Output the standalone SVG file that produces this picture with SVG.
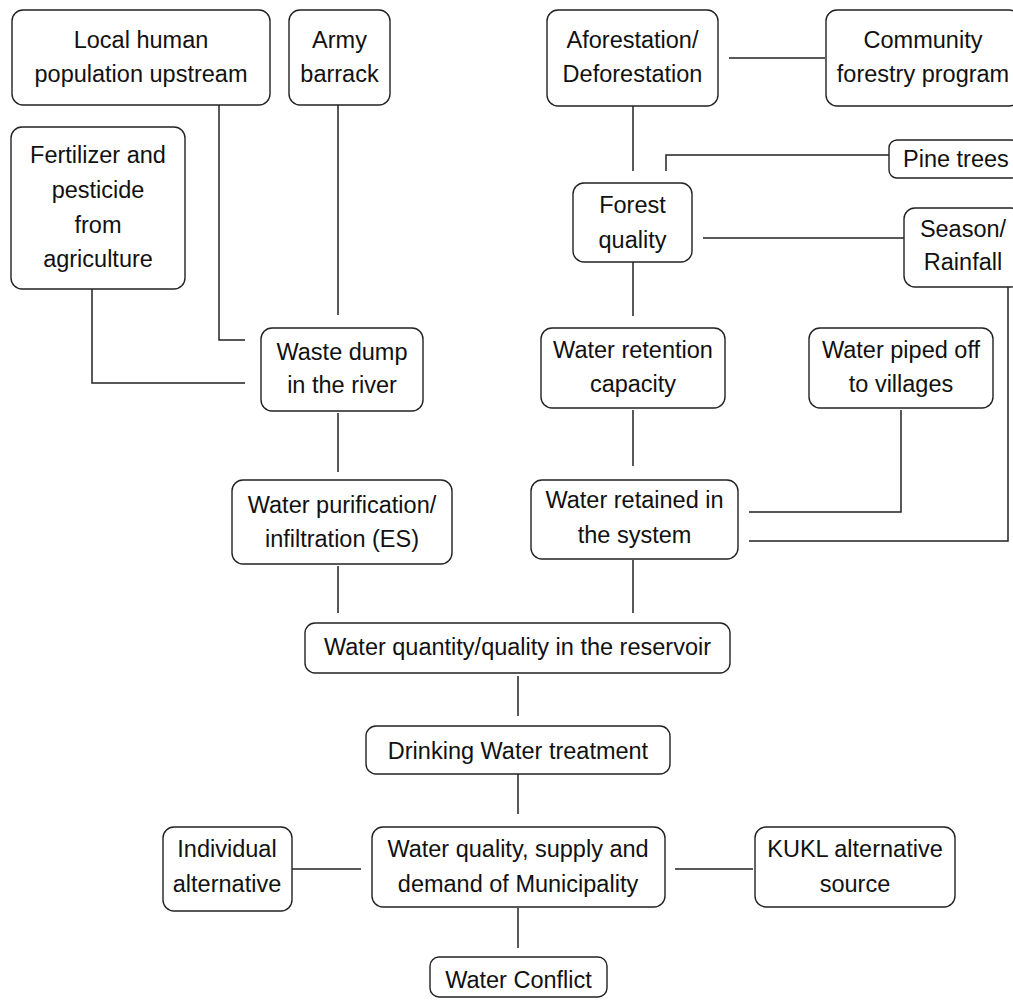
<svg xmlns="http://www.w3.org/2000/svg" width="1013" height="1001" viewBox="0 0 1013 1001">
<style>
.n rect{fill:#fff;stroke:#222;stroke-width:1.4}
.n text{font-family:"Liberation Sans",Arial,sans-serif;font-size:23.5px;fill:#111;text-anchor:middle}
#connectors path{fill:none;stroke:#222;stroke-width:1.5}
</style>
<rect width="1013" height="1001" fill="#fff"/>
<g id="connectors">
<path d="M219,105 V340 H245"/>
<path d="M338,105 V315"/>
<path d="M92,289 V383 H245"/>
<path d="M338,413 V472"/>
<path d="M338,566 V613"/>
<path d="M633,106 V171"/>
<path d="M666,171 V155 H889"/>
<path d="M703,238 H904"/>
<path d="M729,58 H825"/>
<path d="M633,262 V316"/>
<path d="M633,410 V466"/>
<path d="M749,512 H901 V410"/>
<path d="M749,541 H1008 V287"/>
<path d="M633,560 V613"/>
<path d="M518,676 V716"/>
<path d="M518,774 V814"/>
<path d="M292,869 H361"/>
<path d="M675,869 H753"/>
<path d="M518,908 V948"/>
</g>
<g id="local" class="n"><rect x="12" y="10" width="258" height="95" rx="11"/><text x="141" y="48">Local human</text><text x="141" y="82">population upstream</text></g>
<g id="army" class="n"><rect x="289" y="10" width="101" height="95" rx="11"/><text x="339.5" y="48">Army</text><text x="339.5" y="82">barrack</text></g>
<g id="fertilizer" class="n"><rect x="11" y="127" width="174" height="162" rx="11"/><text x="98" y="163">Fertilizer and</text><text x="98" y="198">pesticide</text><text x="98" y="233">from</text><text x="98" y="267">agriculture</text></g>
<g id="aforestation" class="n"><rect x="547" y="10" width="171" height="96" rx="11"/><text x="632.5" y="48">Aforestation/</text><text x="632.5" y="82">Deforestation</text></g>
<g id="community" class="n"><rect x="826" y="10" width="194" height="96" rx="11"/><text x="923" y="48">Community</text><text x="923" y="82">forestry program</text></g>
<g id="pine" class="n"><rect x="889" y="140" width="130" height="38" rx="8"/><text x="903" y="167" style="text-anchor:start">Pine trees</text></g>
<g id="forest" class="n"><rect x="573" y="183" width="119" height="79" rx="11"/><text x="632.5" y="213">Forest</text><text x="632.5" y="248">quality</text></g>
<g id="season" class="n"><rect x="904" y="208" width="118" height="79" rx="11"/><text x="963" y="237">Season/</text><text x="963" y="270">Rainfall</text></g>
<g id="waste" class="n"><rect x="261" y="328" width="162" height="83" rx="11"/><text x="342" y="360">Waste dump</text><text x="342" y="393">in the river</text></g>
<g id="retention" class="n"><rect x="541" y="328" width="184" height="80" rx="11"/><text x="633" y="358">Water retention</text><text x="633" y="392">capacity</text></g>
<g id="piped" class="n"><rect x="809" y="328" width="184" height="80" rx="11"/><text x="901" y="358">Water piped off</text><text x="901" y="392">to villages</text></g>
<g id="purification" class="n"><rect x="232" y="480" width="220" height="84" rx="11"/><text x="342" y="513">Water purification/</text><text x="342" y="547">infiltration (ES)</text></g>
<g id="retained" class="n"><rect x="531" y="480" width="207" height="79" rx="11"/><text x="634.5" y="508">Water retained in</text><text x="634.5" y="543">the system</text></g>
<g id="reservoir" class="n"><rect x="305" y="623" width="425" height="50" rx="10"/><text x="517.5" y="655">Water quantity/quality in the reservoir</text></g>
<g id="drinking" class="n"><rect x="366" y="726" width="304" height="48" rx="10"/><text x="518" y="759">Drinking Water treatment</text></g>
<g id="municipality" class="n"><rect x="372" y="827" width="293" height="80" rx="11"/><text x="518" y="857">Water quality, supply and</text><text x="518" y="892">demand of Municipality</text></g>
<g id="individual" class="n"><rect x="163" y="827" width="129" height="84" rx="11"/><text x="227" y="857">Individual</text><text x="227" y="892">alternative</text></g>
<g id="kukl" class="n"><rect x="755" y="827" width="200" height="80" rx="11"/><text x="855" y="857">KUKL alternative</text><text x="855" y="892">source</text></g>
<g id="conflict" class="n"><rect x="430" y="957" width="177" height="40" rx="9"/><text x="518.5" y="988">Water Conflict</text></g>
</svg>
